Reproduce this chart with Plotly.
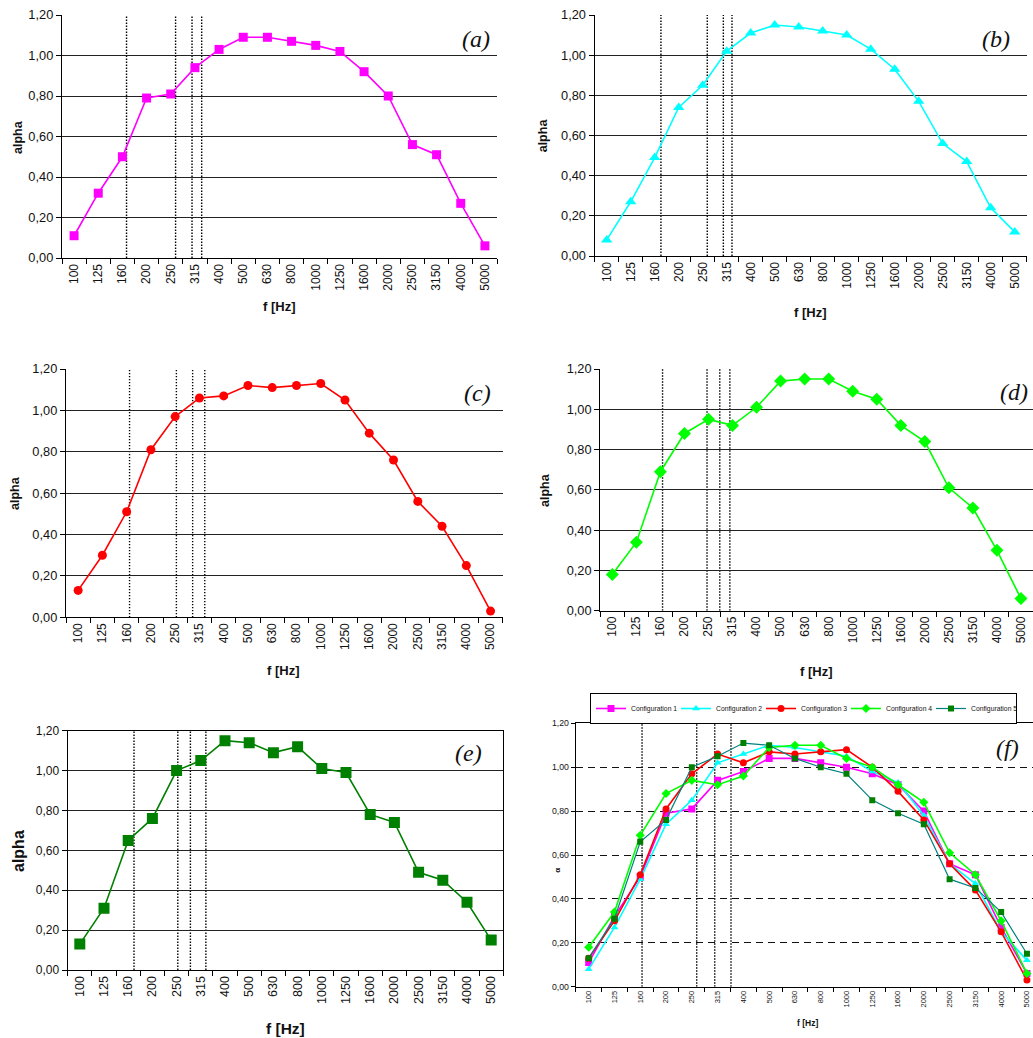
import plotly.graph_objects as go

W, H = 1033, 1038

freqs = ["100", "125", "160", "200", "250", "315", "400", "500", "630", "800",
         "1000", "1250", "1600", "2000", "2500", "3150", "4000", "5000"]

# individual panels (a)-(e)
alpha_c1 = [0.11, 0.32, 0.50, 0.79, 0.81, 0.94, 1.03, 1.09, 1.09, 1.07, 1.05, 1.02, 0.92, 0.80, 0.56, 0.51, 0.27, 0.06]
alpha_c2 = [0.08, 0.27, 0.49, 0.74, 0.85, 1.02, 1.11, 1.15, 1.14, 1.12, 1.10, 1.03, 0.93, 0.77, 0.56, 0.47, 0.24, 0.12]
alpha_c3 = [0.13, 0.30, 0.51, 0.81, 0.97, 1.06, 1.07, 1.12, 1.11, 1.12, 1.13, 1.05, 0.89, 0.76, 0.56, 0.44, 0.25, 0.03]
alpha_c4 = [0.18, 0.34, 0.69, 0.88, 0.95, 0.92, 1.01, 1.14, 1.15, 1.15, 1.09, 1.05, 0.92, 0.84, 0.61, 0.51, 0.30, 0.06]
alpha_c5 = [0.13, 0.31, 0.65, 0.76, 1.00, 1.05, 1.15, 1.14, 1.09, 1.12, 1.01, 0.99, 0.78, 0.74, 0.49, 0.45, 0.34, 0.15]

# comparison panel (f)
cmp_c1 = [0.11, 0.32, 0.50, 0.79, 0.81, 0.94, 0.98, 1.04, 1.04, 1.02, 1.00, 0.97, 0.92, 0.80, 0.56, 0.51, 0.27, 0.06]
cmp_c2 = [0.08, 0.27, 0.49, 0.74, 0.85, 1.02, 1.06, 1.10, 1.09, 1.07, 1.05, 0.98, 0.93, 0.78, 0.56, 0.47, 0.25, 0.12]
cmp_c3 = [0.13, 0.30, 0.51, 0.81, 0.97, 1.06, 1.02, 1.07, 1.06, 1.07, 1.08, 1.00, 0.89, 0.76, 0.56, 0.44, 0.25, 0.03]
cmp_c4 = [0.18, 0.34, 0.69, 0.88, 0.94, 0.92, 0.96, 1.09, 1.10, 1.10, 1.04, 1.00, 0.92, 0.84, 0.61, 0.51, 0.30, 0.06]
cmp_c5 = [0.13, 0.31, 0.66, 0.76, 1.00, 1.05, 1.11, 1.10, 1.04, 1.00, 0.97, 0.85, 0.79, 0.74, 0.49, 0.45, 0.34, 0.15]

series_names = ["Configuration 1", "Configuration 2", "Configuration 3", "Configuration 4", "Configuration 5"]
panel_labels = ["(a)", "(b)", "(c)", "(d)", "(e)", "(f)"]

# dotted reference lines (category-index positions)
ref_lines = [
    [2.17, 4.20, 4.88, 5.28],
    [2.26, 4.19, 4.86, 5.22],
    [2.12, 4.05, 4.72, 5.22],
    [2.09, 3.94, 4.47, 4.89],
    [2.24, 4.05, 4.57, 5.21],
    [2.07, 4.19, 4.89, 5.52],
]

colors = ["#FF00FF", "#00FFFF", "#FF0000", "#00FF00", "#008000"]
line_colors = ["#FF00FF", "#00FFFF", "#FF0000", "#00FF00", "#008000"]
symbols = ["square", "triangle-up", "circle", "diamond", "square"]
msizes = [9, 10, 9, 10, 11]

# pixel boxes: (left, right, top, bottom)
boxes = [
    (62, 497, 15, 258),
    (594.7, 1026.7, 15, 256),
    (66, 502.7, 369, 617.3),
    (600.3, 1033, 369, 610.7),
    (67.7, 503.3, 730.7, 970),
    (575.8, 1033, 723.3, 986.7),
]

label_pos = [(492, 39), (1011.7, 39), (492.7, 392.7), (1030, 391.7), (484, 752.7), (1021, 748.3)]
ytitle_pos = [(18, 137), (543.3, 135), (15, 493), (545, 490), (18.3, 850.7), (556.7, 870)]
xtitle_pos = [(279.3, 306), (810, 312.3), (283.3, 670), (816, 671), (285, 1028.3), (807.3, 1022.7)]

FONT = "Liberation Sans, Arial, sans-serif"

fig = go.Figure()
layout = dict(
    width=W, height=H, margin=dict(l=0, r=0, t=0, b=0, autoexpand=False),
    paper_bgcolor="white", plot_bgcolor="white",
    separators=", ", font=dict(family=FONT, color="#111"),
    showlegend=True,
)
annotations = []
shapes = []

panel_data = [alpha_c1, alpha_c2, alpha_c3, alpha_c4, alpha_c5]
cmp_data = [cmp_c1, cmp_c2, cmp_c3, cmp_c4, cmp_c5]

for p in range(6):
    l, r, t, b = boxes[p]
    ax = "" if p == 0 else str(p + 1)
    xa, ya = "x" + ax, "y" + ax
    is_f = p == 5
    xr = [-0.5, 17.5]
    if is_f:
        cw = 25.78
        xr = [-0.5, -0.5 + (r - l) / cw]
    layout["xaxis" + ax] = dict(
        domain=[l / W, r / W], anchor=ya, type="category",
        range=xr, tickson="boundaries", ticks="outside",
        ticklen=4 if is_f else 5, tickcolor="black", tickwidth=1,
        showline=True, linecolor="black", linewidth=1.3,
        showgrid=False, tickangle=-90,
        tickfont=dict(size=7.5 if is_f else (12.5 if p == 4 else 12), family=FONT, color="#111"),
        mirror=True if p in (4, 5) else False,
        fixedrange=True,
    )
    layout["yaxis" + ax] = dict(
        domain=[1 - b / H, 1 - t / H], anchor=xa,
        range=[0, 1.2], tickvals=[0, 0.2, 0.4, 0.6, 0.8, 1.0, 1.2],
        tickformat=".2f", ticks="outside", ticklen=4 if is_f else 5,
        tickcolor="black", showline=True, linecolor="black", linewidth=1.3,
        showgrid=True, gridcolor="#222" if not is_f else "#111", gridwidth=1,
        griddash="7px,5px" if is_f else "solid",
        zeroline=False,
        tickfont=dict(size=8.7 if is_f else (12 if p == 4 else 12.8), family=FONT, color="#111"),
        mirror=True if p == 4 else False,
        fixedrange=True,
    )
    # dotted lines
    for xv in ref_lines[p]:
        shapes.append(dict(type="line", xref=xa, yref=ya, x0=xv, x1=xv, y0=0, y1=1.2,
                           line=dict(color="black", width=1.4, dash="1.4px,1.6px"), layer="below"))
    # data
    if not is_f:
        fig.add_trace(go.Scatter(
            x=freqs, y=panel_data[p], xaxis=xa, yaxis=ya, mode="lines+markers",
            line=dict(color=line_colors[p], width=1.6),
            marker=dict(symbol=symbols[p], size=msizes[p], color=colors[p]),
            showlegend=False, name=series_names[p]))
    else:
        for k in range(5):
            fig.add_trace(go.Scatter(
                x=freqs, y=cmp_data[k], xaxis=xa, yaxis=ya, mode="lines+markers",
                line=dict(color="#008080" if k == 4 else line_colors[k], width=1.6 if k < 4 else 1.2),
                marker=dict(symbol=symbols[k], size=[7, 7, 7, 7, 6][k], color=colors[k]),
                showlegend=True, name=series_names[k]))
    # panel label
    lx, ly = label_pos[p]
    annotations.append(dict(xref="paper", yref="paper", x=lx / W, y=1 - ly / H,
                            xanchor="right", yanchor="middle", showarrow=False,
                            text="<i>" + panel_labels[p] + "</i>",
                            font=dict(family="Liberation Serif, Times New Roman, serif", size=24, color="#111")))
    # axis titles
    tx, ty = ytitle_pos[p]
    annotations.append(dict(xref="paper", yref="paper", x=tx / W, y=1 - ty / H,
                            xanchor="center", yanchor="middle", showarrow=False, textangle=-90,
                            text="<b>" + ("α" if is_f else "alpha") + "</b>",
                            font=dict(family=FONT, size=8 if is_f else (16 if p == 4 else 12.5), color="#111")))
    tx, ty = xtitle_pos[p]
    annotations.append(dict(xref="paper", yref="paper", x=tx / W, y=1 - ty / H,
                            xanchor="center", yanchor="middle", showarrow=False,
                            text="<b>f [Hz]</b>",
                            font=dict(family=FONT, size=8.5 if is_f else (15.5 if p == 4 else 13), color="#111")))

layout["annotations"] = annotations
layout["shapes"] = shapes
layout["legend"] = dict(
    orientation="h", x=590 / W, y=1 - 724 / H, xanchor="left", yanchor="bottom",
    bordercolor="black", borderwidth=1, bgcolor="white",
    font=dict(family=FONT, size=6.8, color="#111"),
    itemwidth=30, tracegroupgap=0, entrywidth=40, entrywidthmode="pixels",
)
fig.update_layout(**layout)
fig.write_html("out.html", config={"displayModeBar": False},
               post_script="document.body.style.margin='0px';document.body.style.overflow='hidden';")
